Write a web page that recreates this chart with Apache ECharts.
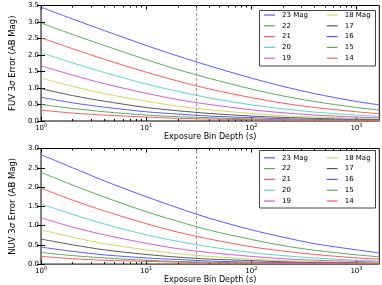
<!DOCTYPE html>
<html><head><meta charset="utf-8">
<script src="https://cdn.jsdelivr.net/npm/echarts@6/dist/echarts.min.js"></script>
<style>html,body{margin:0;padding:0;background:#fff}#c{width:382px;height:285px}</style>
</head><body><div id="c"></div>
<script>
// ---- data ----
const exposures = [1, 2, 4, 10, 20, 40, 100, 200, 400, 1000, 1650];
const magNames = ['23 Mag', '22', '21', '20', '19', '18 Mag', '17', '16', '15', '14'];
const fuv23 = [3.45, 3.09, 2.74, 2.29, 1.97, 1.67, 1.30, 1.05, 0.83, 0.59, 0.49];
const fuv22 = [2.97, 2.62, 2.29, 1.86, 1.56, 1.29, 0.97, 0.76, 0.59, 0.41, 0.33];
const fuv21 = [2.52, 2.19, 1.87, 1.48, 1.21, 0.97, 0.71, 0.54, 0.41, 0.28, 0.22];
const fuv20 = [2.07, 1.76, 1.47, 1.12, 0.90, 0.70, 0.49, 0.37, 0.27, 0.18, 0.14];
const fuv19 = [1.67, 1.39, 1.13, 0.84, 0.65, 0.50, 0.34, 0.25, 0.18, 0.12, 0.09];
const fuv18 = [1.30, 1.05, 0.83, 0.60, 0.45, 0.34, 0.23, 0.16, 0.12, 0.08, 0.06];
const fuv17 = [0.98, 0.77, 0.60, 0.41, 0.31, 0.23, 0.15, 0.11, 0.08, 0.05, 0.04];
const fuv16 = [0.72, 0.55, 0.42, 0.28, 0.21, 0.15, 0.10, 0.07, 0.05, 0.03, 0.02];
const fuv15 = [0.50, 0.38, 0.28, 0.18, 0.13, 0.10, 0.06, 0.04, 0.03, 0.02, 0.015];
const fuv14 = [0.33, 0.24, 0.18, 0.12, 0.08, 0.06, 0.04, 0.03, 0.02, 0.01, 0.01];
const nuv23 = [2.84, 2.50, 2.16, 1.75, 1.46, 1.19, 0.89, 0.70, 0.53, 0.37, 0.29];
const nuv22 = [2.38, 2.05, 1.74, 1.36, 1.11, 0.88, 0.64, 0.48, 0.36, 0.24, 0.19];
const nuv21 = [1.97, 1.66, 1.38, 1.05, 0.83, 0.65, 0.45, 0.34, 0.25, 0.16, 0.13];
const nuv20 = [1.56, 1.29, 1.04, 0.76, 0.59, 0.45, 0.30, 0.22, 0.16, 0.10, 0.08];
const nuv19 = [1.20, 0.96, 0.76, 0.54, 0.40, 0.30, 0.20, 0.14, 0.10, 0.07, 0.05];
const nuv18 = [0.89, 0.70, 0.53, 0.37, 0.27, 0.20, 0.13, 0.09, 0.07, 0.04, 0.03];
const nuv17 = [0.65, 0.50, 0.37, 0.25, 0.18, 0.13, 0.09, 0.06, 0.04, 0.03, 0.02];
const nuv16 = [0.44, 0.33, 0.24, 0.16, 0.12, 0.08, 0.05, 0.04, 0.03, 0.02, 0.01];
const nuv15 = [0.30, 0.22, 0.16, 0.10, 0.07, 0.05, 0.03, 0.02, 0.02, 0.01, 0.01];
const nuv14 = [0.20, 0.14, 0.10, 0.07, 0.05, 0.03, 0.02, 0.02, 0.01, 0.01, 0.005];
const xMin = 1, xMax = 1650;
const xMajorTicks = [1, 10, 100, 1000];
const fuvMax = 3.5, nuvMax = 3.0, yStep = 0.5;
const dashedLineX = 30;
const panelTitles = ['FUV 3{i|σ} Error (AB Mag)', 'NUV 3{i|σ} Error (AB Mag)'];
const xTitle = 'Exposure Bin Depth (s)';

// ---- styles ----
const colors = ['#5959ff', '#59ac59', '#ff5959', '#59d5d5', '#d559d5', '#d5d559', '#595959', '#5959ff', '#59ac59', '#ff5959'];
const FONT = 'DejaVu Sans';
const fuvSets = [fuv23, fuv22, fuv21, fuv20, fuv19, fuv18, fuv17, fuv16, fuv15, fuv14];
const nuvSets = [nuv23, nuv22, nuv21, nuv20, nuv19, nuv18, nuv17, nuv16, nuv15, nuv14];

const grids = [
  {left: 23, right: 2.7, top: 5.5, height: 115.5},
  {left: 23, right: 2.7, top: 148.5, height: 116}
].map(g => Object.assign(g, {show: true, borderColor: '#000', borderWidth: 1, backgroundColor: '#fff'}));

const logMax = Math.log10(xMax);
const majorLog = xMajorTicks.map(v => Math.log10(v));
const minorLog = [];
xMajorTicks.forEach(d => { for (let k = 2; k <= 9; k++) { if (k * d <= xMax) minorLog.push(Math.log10(k * d)); } });

const xAxes = [], yAxes = [], series = [], legends = [], graphics = [];
[0, 1].forEach(g => {
  xAxes.push({type: 'log', gridIndex: g, min: xMin, max: xMax, logBase: 10, show: false});
  const deco = (pos, vals, len, labels, extra) => Object.assign({
    type: 'value', gridIndex: g, min: 0, max: logMax, position: pos,
    axisLine: {show: false}, splitLine: {show: false},
    axisTick: {show: true, inside: true, length: len, customValues: vals, lineStyle: {color: '#000', width: 1}},
    axisLabel: labels ? {show: true, customValues: majorLog, margin: 2, fontSize: 7, fontFamily: FONT, color: '#000',
      formatter: v => '{b|10}{s|' + Math.round(v) + '}',
      rich: {b: {fontSize: 7, fontFamily: FONT, lineHeight: 9, verticalAlign: 'bottom'}, s: {fontSize: 5, fontFamily: FONT, lineHeight: 9, verticalAlign: 'top'}}} : {show: false}
  }, extra || {});
  xAxes.push(deco('bottom', majorLog, 4, true, {name: xTitle, nameLocation: 'middle', nameGap: 9,
    nameTextStyle: {fontSize: 8, fontFamily: FONT, color: '#000'}}));
  xAxes.push(deco('bottom', minorLog, 2, false));
  xAxes.push(deco('top', majorLog, 4, false));
  xAxes.push(deco('top', minorLog, 2, false));
  const yMax = g === 0 ? fuvMax : nuvMax;
  yAxes.push({type: 'value', gridIndex: g, min: 0, max: yMax, interval: yStep, position: 'left',
    axisLine: {show: false}, splitLine: {show: false},
    axisTick: {show: true, inside: true, length: 4, lineStyle: {color: '#000'}},
    axisLabel: {fontSize: 7, fontFamily: FONT, color: '#000', margin: 2, formatter: v => v.toFixed(1)},
    name: panelTitles[g], nameLocation: 'middle', nameGap: 12, nameRotate: 90,
    nameTextStyle: {fontSize: 8.5, fontFamily: FONT, color: '#000', rich: {i: {fontSize: 8.5, fontFamily: FONT, fontStyle: 'italic'}}}});
  yAxes.push({type: 'value', gridIndex: g, min: 0, max: yMax, interval: yStep, position: 'right',
    axisLine: {show: false}, splitLine: {show: false},
    axisTick: {show: true, inside: true, length: 4, lineStyle: {color: '#000'}}, axisLabel: {show: false}});
  const sets = g === 0 ? fuvSets : nuvSets;
  sets.forEach((arr, i) => {
    const s = {type: 'line', name: magNames[i], xAxisIndex: g * 5, yAxisIndex: g * 2,
      data: exposures.map((t, j) => [t, arr[j]]), symbol: 'none', smooth: 0.3,
      lineStyle: {width: 1, color: colors[i]}, itemStyle: {color: colors[i]}, color: colors[i], z: 2 + i};
    if (i === 0) s.markLine = {silent: true, symbol: ['none', 'none'], label: {show: false},
      lineStyle: {type: [3, 2], color: '#999', width: 1}, data: [{xAxis: dashedLineX}], z: 1};
    series.push(s);
  });
  const lt = g === 0 ? 9.6 : 152.4;
  const common = {orient: 'vertical', padding: 0, itemGap: 0, itemWidth: 11, itemHeight: 1.2, icon: 'rect', selectedMode: false,
    textStyle: {fontSize: 7, fontFamily: FONT, color: '#000', lineHeight: 10.8, padding: [0, 0, 0, 2]}};
  legends.push(Object.assign({}, common, {left: 264, top: lt, data: magNames.slice(0, 5)}));
  legends.push(Object.assign({}, common, {left: 326.7, top: lt, data: magNames.slice(5)}));
  graphics.push({type: 'rect', shape: {x: 259.5, y: g === 0 ? 10.5 : 150.5, width: 116, height: g === 0 ? 55.5 : 57.5},
    style: {fill: '#fff', stroke: '#444', lineWidth: 1}, z: 50});
});

const chart = echarts.init(document.getElementById('c'), null, {renderer: 'canvas'});
chart.setOption({
  animation: false,
  backgroundColor: '#fff',
  grid: grids,
  xAxis: xAxes,
  yAxis: yAxes,
  legend: legends.map(l => Object.assign(l, {z: 60})),
  graphic: graphics,
  series: series
});
</script>
</body></html>
